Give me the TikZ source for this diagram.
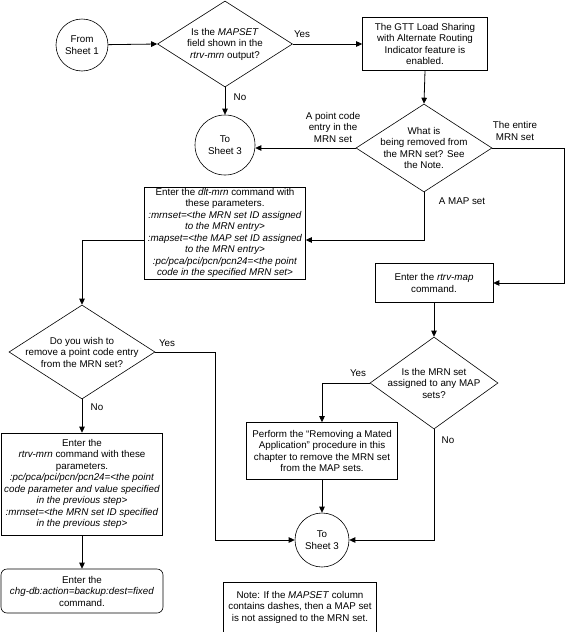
\documentclass[tikz,border=0pt]{standalone}
\usepackage{fontspec}
\setmainfont{Liberation Sans}
\usetikzlibrary{shapes.geometric}
\usetikzlibrary{arrows.meta}

\begin{document}
\begin{tikzpicture}[x=1pt, y=-1pt,
  every node/.style={font=\fontsize{9.8}{11.5}\selectfont, align=center, inner sep=1pt},
  box/.style={draw, rectangle, line width=0.6pt},
  roundbox/.style={draw, rectangle, rounded corners=6pt, line width=0.6pt},
  decision/.style={draw, diamond, inner sep=0pt, line width=0.6pt},
  sheet/.style={draw, circle, inner sep=0pt, line width=0.6pt},
  conn/.style={line width=0.8pt},
  arr/.style={conn, -{Triangle[length=6pt, width=5.5pt]}}]

\useasboundingbox (0,0) rectangle (565,632);

% shapes
\node[sheet, minimum size=52pt] (from) at (82,45) {From\\Sheet 1};

\node[decision, minimum width=135pt, minimum height=86pt] (d1) at (225,44) {};
\node (d1t) at (d1) {Is the \textit{MAPSET}\\field shown in the\\\textit{rtrv-mrn} output?};

\node[box, minimum width=125pt, minimum height=53pt] (gtt) at (425,44)
  {The GTT Load Sharing\\with Alternate Routing\\Indicator feature is\\enabled.};

\node[sheet, minimum size=60pt] (sh3a) at (225,145) {To\\Sheet 3};

\node[decision, minimum width=136pt, minimum height=88pt] (d2) at (424,148) {};
\node (d2t) at (d2) {What is\\being removed from\\the MRN set? See\\the Note.};

\node[box, minimum width=161pt, minimum height=92pt] (dlt) at (225,233)
  {Enter the \textit{dlt-mrn} command with\\these parameters.\\
   \textit{:mrnset=<the MRN set ID assigned}\\\textit{to the MRN entry>}\\
   \textit{:mapset=<the MAP set ID assigned}\\\textit{to the MRN entry>}\\
   \textit{:pc/pca/pci/pcn/pcn24=<the point}\\\textit{code in the specified MRN set>}};

\node[box, minimum width=118pt, minimum height=39pt] (rtrvmap) at (434,283)
  {Enter the \textit{rtrv-map}\\command.};

\node[decision, minimum width=146pt, minimum height=94pt] (d3) at (82,352) {};
\node (d3t) at (d3) {Do you wish to\\remove a point code entry\\from the MRN set?};

\node[decision, minimum width=128pt, minimum height=92pt] (d4) at (434,383) {};
\node (d4t) at (d4) {Is the MRN set\\assigned to any MAP\\sets?};

\node[box, minimum width=151pt, minimum height=57pt] (perform) at (322,451)
  {Perform the “Removing a Mated\\Application” procedure in this\\chapter to remove the MRN set\\from the MAP sets.};

\node[box, minimum width=161pt, minimum height=102pt] (rtrvmrn) at (82,484)
  {Enter the\\\textit{rtrv-mrn} command with these\\parameters.\\
   \textit{:pc/pca/pci/pcn/pcn24=<the point}\\\textit{code parameter and value specified}\\
   \textit{in the previous step>}\\\textit{:mrnset=<the MRN set ID specified}\\
   \textit{in the previous step>}};

\node[sheet, minimum size=54pt] (sh3b) at (322,540) {To\\Sheet 3};

\node[roundbox, minimum width=162pt, minimum height=44pt] (chgdb) at (82,591)
  {Enter the\\\textit{chg-db:action=backup:dest=fixed}\\command.};

\node[box, minimum width=153pt, minimum height=50pt] (note) at (300,607)
  {Note: If the \textit{MAPSET} column\\contains dashes, then a MAP set\\is not assigned to the MRN set.};

% connectors
\coordinate (c1) at (564,148);
\coordinate (c2) at (215,540);
\coordinate (dltr) at ([yshift=-7pt]dlt.east);
\coordinate (dltl) at ([yshift=-7pt]dlt.west);

\draw[arr] (from) -- (d1.west);
\draw[arr] (d1.east) -- (gtt.west);
\draw[arr] (d1.south) -- (sh3a.north);
\draw[arr] (gtt.south) -- (d2.north);
\draw[arr] (d2.west) -- (d2.west -| sh3a.east);
\draw[arr] (d2.east) -- (c1) |- (rtrvmap.east);
\draw[arr] (d2.south) |- (dltr);
\draw[arr] (dltl) -| (d3.north);
\draw[arr] (rtrvmap.south) -- (d4.north);
\draw[arr] (d3.east) -| (c2) -- (sh3b.west);
\draw[arr] (d3.south) -- (rtrvmrn.north);
\draw[arr] (rtrvmrn.south) -- (chgdb.north);
\draw[arr] (d4.west) -| (perform.north);
\draw[arr] (perform.south) -- (sh3b.north);
\draw[arr] (d4.south) |- (sh3b.east);

% labels
\node (yes1) at (302,34) {Yes};
\node (no1) at (240,97) {No};
\node (lpc) at (333,127) {A point code\\entry in the\\MRN set};
\node (lall) at (515,131) {The entire\\MRN set};
\node (lmap) at (462,201) {A MAP set};
\node (yes3) at (167,343) {Yes};
\node (no3) at (97,407) {No};
\node (yes4) at (358,373) {Yes};
\node (no4) at (448,440) {No};

\end{tikzpicture}
\end{document}
